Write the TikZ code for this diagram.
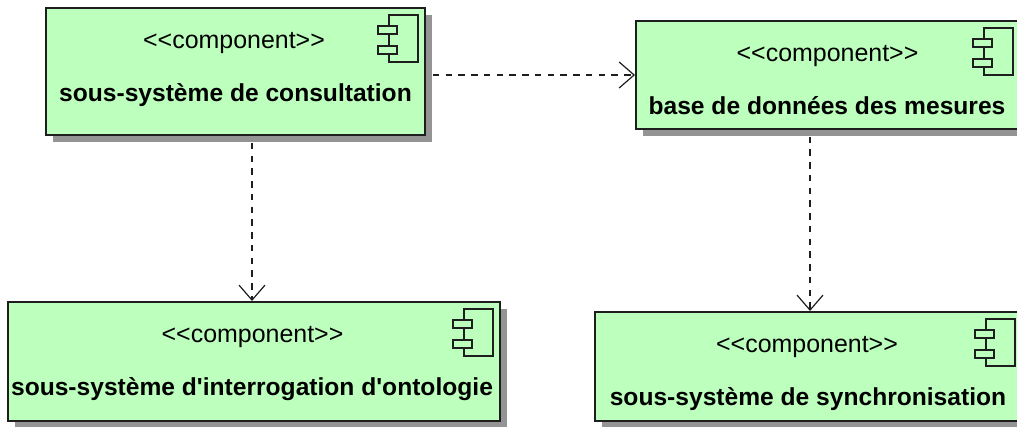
\documentclass[tikz,border=0pt]{standalone}
\usepackage{fontspec}
\setmainfont{Liberation Sans}
\usetikzlibrary{arrows.meta,shadows}
\definecolor{compgreen}{HTML}{BDFFBD}
\definecolor{compline}{HTML}{1E1E1E}
\tikzset{
    comp/.style={draw=compline,line width=0.04cm,fill=compgreen,inner sep=0pt,
        drop shadow={shadow xshift=0.14cm,shadow yshift=-0.14cm,fill=black!42,opacity=1}},
    stereo/.style={anchor=base,inner sep=0pt,font=\fontsize{14.2}{17}\selectfont},
    compname/.style={anchor=base,inner sep=0pt,font=\fontsize{14}{17}\selectfont\bfseries},
    dep/.style={draw=compline,line width=0.03cm,dash pattern=on 0.13cm off 0.125cm,-{Straight Barb[length=0.3cm,width=0.52cm,line width=0.024cm]}}
}
% the little plug symbol, placed from the top right corner of a box
\newcommand{\compicon}[1]{
    \begin{scope}[shift={(#1.north east)},draw=compline,line width=0.036cm]
        \draw (-37,-8) rectangle (-8,-55);
        \draw [fill=compgreen] (-48,-19) rectangle (-29,-27);
        \draw [fill=compgreen] (-48,-39) rectangle (-29,-47);
    \end{scope}
}
\begin{document}
\begin{tikzpicture}[x=0.02cm,y=0.02cm]
    \useasboundingbox (0,0) rectangle (1017,-426);
    \node [comp,minimum width=7.58cm,minimum height=2.54cm] (consult) at (235.5,-71.5) {};
    \node [comp,minimum width=7.68cm,minimum height=2.15cm] (mesures) at (828,-75) {};
    \node [comp,minimum width=9.84cm,minimum height=2.38cm] (ontologie) at (254,-361.5) {};
    \node [comp,minimum width=8.54cm,minimum height=2.18cm] (synchro) at (808.5,-366.5) {};
    \compicon{consult}
    \compicon{mesures}
    \compicon{ontologie}
    \compicon{synchro}
    \node [stereo] (consultS) at (234,-48) {<{}<component>{}>};
    \node [compname] (consultN) at (235.5,-101.5) {sous-système de consultation};
    \node [stereo] (mesuresS) at (827.5,-61) {<{}<component>{}>};
    \node [compname] (mesuresN) at (827,-114) {base de données des mesures};
    \node [stereo] (ontologieS) at (252.5,-342) {<{}<component>{}>};
    \node [compname] (ontologieN) at (252,-395) {sous-système d\textquotesingle interrogation d\textquotesingle ontologie};
    \node [stereo] (synchroS) at (807,-352) {<{}<component>{}>};
    \node [compname] (synchroN) at (808,-405) {sous-système de synchronisation};
    \coordinate (dropL) at (252,-200);
    \coordinate (dropR) at (810,-200);
    \draw [dep,shorten <=0.14cm] (consult.east |- mesures.west) -- (mesures.west);
    \draw [dep,shorten <=0.14cm] (dropL |- consult.south) -- (dropL |- ontologie.north);
    \draw [dep,shorten <=0.14cm] (dropR |- mesures.south) -- (dropR |- synchro.north);
\end{tikzpicture}
\end{document}
